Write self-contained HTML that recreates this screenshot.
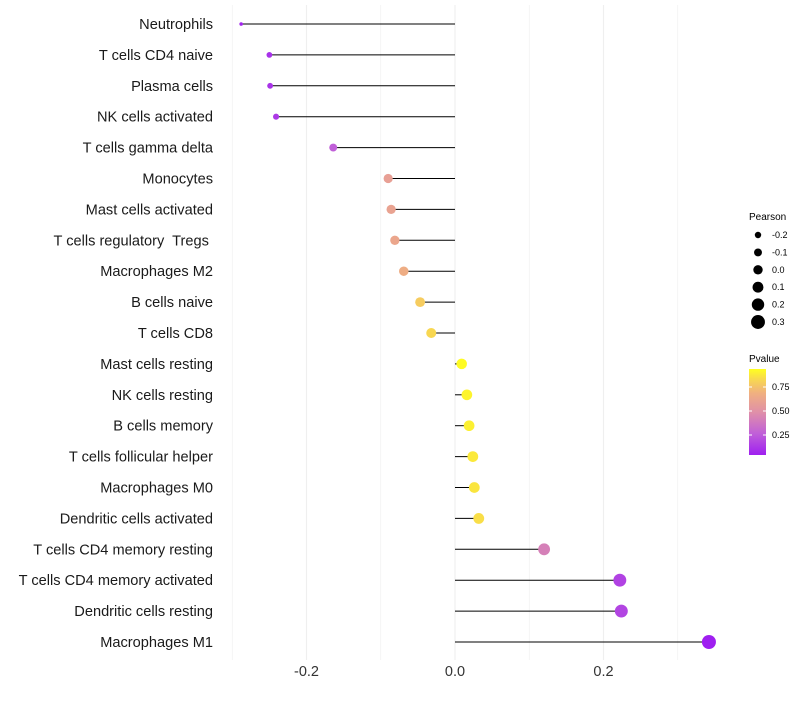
<!DOCTYPE html>
<html><head><meta charset="utf-8"><style>
body{margin:0;background:#fff;font-family:"Liberation Sans",sans-serif;}
svg text{font-family:"Liberation Sans",sans-serif;white-space:pre;}
</style></head><body>
<svg id="chart" width="800" height="700" xmlns="http://www.w3.org/2000/svg">
<defs><linearGradient id="pg" x1="0" y1="1" x2="0" y2="0">
<stop offset="0" stop-color="#9f1ff0"/><stop offset="0.25" stop-color="#c060d8"/><stop offset="0.5" stop-color="#e090a8"/><stop offset="0.72" stop-color="#f0b080"/><stop offset="0.88" stop-color="#f8d850"/><stop offset="1" stop-color="#ffff20"/></linearGradient></defs>
<g id="grid"></g>
<g id="marks"></g>
<g id="ylabels"></g>
<g id="xlabels"></g>
<g id="sizeLegend">
<text x="749" y="220" font-size="10">Pearson</text>
</g>
<g>
<text x="749" y="362" font-size="10">Pvalue</text>
<rect x="749" y="369" width="17" height="86" fill="url(#pg)"/>
<line x1="749" x2="752" y1="387" y2="387" stroke="#fff"/><line x1="763" x2="766" y1="387" y2="387" stroke="#fff"/>
<line x1="749" x2="752" y1="411" y2="411" stroke="#fff"/><line x1="763" x2="766" y1="411" y2="411" stroke="#fff"/>
<line x1="749" x2="752" y1="435" y2="435" stroke="#fff"/><line x1="763" x2="766" y1="435" y2="435" stroke="#fff"/>
<text x="772" y="390" font-size="9">0.75</text><text x="772" y="414" font-size="9">0.50</text><text x="772" y="438" font-size="9">0.25</text>
</g>
</svg>
<script>
const categories=["Neutrophils","T cells CD4 naive","Plasma cells","NK cells activated","T cells gamma delta","Monocytes","Mast cells activated","T cells regulatory  Tregs ","Macrophages M2","B cells naive","T cells CD8","Mast cells resting","NK cells resting","B cells memory","T cells follicular helper","Macrophages M0","Dendritic cells activated","T cells CD4 memory resting","T cells CD4 memory activated","Dendritic cells resting","Macrophages M1"];
const pearson=[-0.288,-0.25,-0.249,-0.241,-0.164,-0.090,-0.086,-0.081,-0.069,-0.047,-0.032,0.009,0.016,0.019,0.024,0.026,0.032,0.12,0.222,0.224,0.342];
const pvalue=[0.1,0.14,0.15,0.17,0.3,0.62,0.64,0.66,0.7,0.82,0.86,0.96,0.94,0.93,0.91,0.9,0.88,0.45,0.2,0.21,0.05];
const xTicks=[-0.2,0.0,0.2];
const sizeLegendVals=[-0.2,-0.1,0.0,0.1,0.2,0.3];
const NS="http://www.w3.org/2000/svg";
const x=v=>455+v*742.5;
const y=i=>24+i*30.9;
const r=v=>1.5+5.5*Math.sqrt(Math.max(0,(v+0.29)/0.632));
const stops=[[0,[159,31,240]],[0.25,[192,96,216]],[0.5,[224,144,168]],[0.72,[240,176,128]],[0.88,[248,216,80]],[1,[255,255,32]]];
function col(p){let t=(p-0.08)/(0.97-0.08);t=Math.max(0,Math.min(1,t));
for(let k=1;k<stops.length;k++){if(t<=stops[k][0]){const a=stops[k-1],b=stops[k];const f=(t-a[0])/(b[0]-a[0]);
return "rgb("+a[1].map((c,j)=>Math.round(c+(b[1][j]-c)*f)).join(",")+")";}}return "rgb(255,255,32)";}
function mk(tag,attrs,parent){const e=document.createElementNS(NS,tag);for(const k in attrs)e.setAttribute(k,attrs[k]);parent.appendChild(e);return e;}
const grid=document.getElementById("grid"),marks=document.getElementById("marks"),yl=document.getElementById("ylabels"),xl=document.getElementById("xlabels");
[-0.3,-0.2,-0.1,0,0.1,0.2,0.3].forEach((v,k)=>{const g=mk("line",{x1:x(v),x2:x(v),y1:5,y2:660,stroke:"#efefef","stroke-width":k%2===1?1.1:0.6},grid);
});
xTicks.forEach(v=>{const t=mk("text",{x:x(v),y:676,"font-size":14.5,"text-anchor":"middle",fill:"#333"},xl);t.textContent=v.toFixed(1);
});
categories.forEach((c,i)=>{
const t=mk("text",{x:213,y:y(i)+5,"font-size":14.6,"text-anchor":"end",fill:"#1a1a1a"},yl);t.textContent=c;

const s=mk("line",{x1:x(0),x2:x(pearson[i]),y1:y(i),y2:y(i),stroke:"#000","stroke-width":1},marks);

const d=mk("circle",{cx:x(pearson[i]),cy:y(i),r:r(pearson[i]),fill:col(pvalue[i])},marks);
});
const sl=document.getElementById("sizeLegend");
sizeLegendVals.forEach((v,i)=>{const cy=235+i*17.4;
const c=mk("circle",{cx:758,cy:cy,r:3.2+i*0.75,fill:"#000"},sl);
const t=mk("text",{x:772,y:cy+3,"font-size":9},sl);t.textContent=v.toFixed(1);});
</script>
</body></html>
